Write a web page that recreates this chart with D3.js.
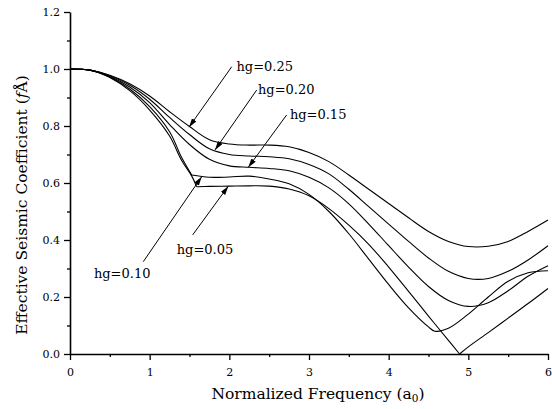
<!DOCTYPE html>
<html>
<head>
<meta charset="utf-8">
<script src="https://cdn.jsdelivr.net/npm/d3@7"></script>
<style>
  body { margin: 0; background: #fff; }
  svg text { font-family: "DejaVu Serif", "Liberation Serif", serif; fill: #000; }
</style>
</head>
<body>
<svg id="chart" width="552" height="409"></svg>
<script>
// Effective seismic coefficient vs. normalized frequency, one curve per hg value.
const hgValues = ["0.25", "0.20", "0.15", "0.10", "0.05"];

const freq25 = [0, 0.25, 0.5, 0.75, 1, 1.25, 1.5, 1.75, 2, 2.25, 2.5, 2.75, 3, 3.25, 3.5, 3.75, 4, 4.25, 4.5, 4.75, 5, 5.25, 5.5, 5.75, 6];
const coef25 = [1.0, 0.996, 0.978, 0.948, 0.905, 0.85, 0.798, 0.752, 0.737, 0.733, 0.733, 0.727, 0.707, 0.675, 0.628, 0.578, 0.528, 0.478, 0.43, 0.395, 0.377, 0.378, 0.395, 0.43, 0.47];

const freq20 = [0, 0.25, 0.5, 0.75, 1, 1.25, 1.5, 1.75, 2, 2.25, 2.5, 2.75, 3, 3.25, 3.5, 3.75, 4, 4.25, 4.5, 4.75, 5, 5.25, 5.5, 5.75, 6];
const coef20 = [1.0, 0.996, 0.976, 0.943, 0.894, 0.83, 0.77, 0.72, 0.70, 0.695, 0.692, 0.685, 0.665, 0.632, 0.578, 0.517, 0.456, 0.395, 0.337, 0.29, 0.265, 0.265, 0.29, 0.33, 0.38];

const freq15 = [0, 0.25, 0.5, 0.75, 1, 1.25, 1.5, 1.75, 2, 2.25, 2.5, 2.75, 3, 3.25, 3.5, 3.75, 4, 4.25, 4.5, 4.75, 5, 5.25, 5.5, 5.75, 6];
const coef15 = [1.0, 0.996, 0.974, 0.937, 0.882, 0.805, 0.735, 0.683, 0.66, 0.655, 0.651, 0.643, 0.62, 0.583, 0.527, 0.456, 0.38, 0.305, 0.237, 0.188, 0.167, 0.18, 0.222, 0.273, 0.31];

const freq10 = [0, 0.25, 0.5, 0.75, 1, 1.25, 1.4, 1.527, 1.75, 2, 2.25, 2.5, 2.75, 3, 3.25, 3.5, 3.75, 4, 4.25, 4.5, 4.58, 4.75, 5, 5.25, 5.5, 5.75, 6];
const coef10 = [1.0, 0.996, 0.972, 0.93, 0.868, 0.78, 0.69, 0.628, 0.62, 0.621, 0.624, 0.614, 0.597, 0.56, 0.5, 0.422, 0.333, 0.244, 0.162, 0.095, 0.08, 0.09, 0.14, 0.2, 0.255, 0.285, 0.292];
const kinks10 = [1.527];

const freq05 = [0, 0.25, 0.5, 0.75, 1, 1.25, 1.4, 1.527, 1.59, 1.75, 2, 2.25, 2.5, 2.75, 3, 3.25, 3.5, 3.75, 4, 4.25, 4.5, 4.75, 4.89, 5, 5.25, 5.5, 5.75, 6];
const coef05 = [1.0, 0.996, 0.97, 0.924, 0.856, 0.765, 0.68, 0.625, 0.587, 0.588, 0.589, 0.59, 0.589, 0.579, 0.555, 0.51, 0.452, 0.385, 0.305, 0.22, 0.133, 0.048, 0.0, 0.025, 0.075, 0.126, 0.177, 0.23];
const kinks05 = [1.59, 4.89];

const xTicks = [0, 1, 2, 3, 4, 5, 6];
const yTicks = [0.0, 0.2, 0.4, 0.6, 0.8, 1.0, 1.2];

const series = [
  { hg: hgValues[0], x: freq25, y: coef25, kinks: [] },
  { hg: hgValues[1], x: freq20, y: coef20, kinks: [] },
  { hg: hgValues[2], x: freq15, y: coef15, kinks: [] },
  { hg: hgValues[3], x: freq10, y: coef10, kinks: kinks10 },
  { hg: hgValues[4], x: freq05, y: coef05, kinks: kinks05 }
];

// Callouts: label anchor, leader start and arrow tip, all in data units.
const callouts = [
  { hg: hgValues[0], label: [2.09, 0.993], from: [2.03, 1.008], to: [1.494, 0.796] },
  { hg: hgValues[1], label: [2.36, 0.912], from: [2.343, 0.926], to: [1.82, 0.716] },
  { hg: hgValues[2], label: [2.76, 0.825], from: [2.72, 0.839], to: [2.238, 0.655] },
  { hg: hgValues[3], label: [0.30, 0.267], from: [0.92, 0.324], to: [1.653, 0.622] },
  { hg: hgValues[4], label: [1.34, 0.350], from: [1.54, 0.418], to: [1.987, 0.589] }
];

const svg = d3.select("#chart");
const x = d3.scaleLinear().domain([0, 6]).range([70, 548]);
const y = d3.scaleLinear().domain([0, 1.2]).range([354, 12]);

// Minor ticks
svg.append("g")
  .attr("transform", "translate(0,354)")
  .call(d3.axisBottom(x).tickValues(d3.range(0.5, 6, 1)).tickSize(3).tickSizeOuter(0).tickFormat(""))
  .call(g => g.select(".domain").remove())
  .call(g => g.selectAll("line").attr("stroke", "#000").attr("stroke-width", 1.3));
svg.append("g")
  .attr("transform", "translate(70,0)")
  .call(d3.axisLeft(y).tickValues(d3.range(0.1, 1.2, 0.2)).tickSize(3).tickSizeOuter(0).tickFormat(""))
  .call(g => g.select(".domain").remove())
  .call(g => g.selectAll("line").attr("stroke", "#000").attr("stroke-width", 1.3));

// Major axes
const xAxis = svg.append("g")
  .attr("transform", "translate(0,354)")
  .call(d3.axisBottom(x).tickValues(xTicks).tickSize(6).tickSizeOuter(0).tickPadding(8).tickFormat(d3.format("d")));
const yAxis = svg.append("g")
  .attr("transform", "translate(70,0)")
  .call(d3.axisLeft(y).tickValues(yTicks).tickSize(6).tickSizeOuter(0).tickPadding(4).tickFormat(d3.format(".1f")));
[xAxis, yAxis].forEach(g => {
  g.select(".domain").attr("stroke", "#000").attr("stroke-width", 1.6);
  g.selectAll(".tick line").attr("stroke", "#000").attr("stroke-width", 1.3);
  g.selectAll(".tick text").attr("font-family", "DejaVu Serif").attr("font-size", 11).attr("fill", "#000");
});

// Curves, split at corner points so the corners stay sharp
const line = d3.line().x(d => x(d[0])).y(d => y(d[1])).curve(d3.curveCatmullRom.alpha(0.5));
const curves = svg.append("g").attr("fill", "none").attr("stroke", "#000").attr("stroke-width", 1.1);
series.forEach(s => {
  const pts = s.x.map((a, i) => [a, s.y[i]]);
  const cuts = [0, ...s.kinks.map(k => s.x.indexOf(k)), pts.length - 1];
  for (let i = 0; i < cuts.length - 1; i++) {
    curves.append("path").attr("d", line(pts.slice(cuts[i], cuts[i + 1] + 1)));
  }
});

// Arrow callouts
svg.append("defs").append("marker")
  .attr("id", "arrow").attr("viewBox", "0 0 10 6").attr("refX", 10).attr("refY", 3)
  .attr("markerWidth", 9).attr("markerHeight", 5.5).attr("markerUnits", "userSpaceOnUse")
  .attr("orient", "auto")
  .append("path").attr("d", "M0,0L10,3L0,6Z").attr("fill", "#000");
const notes = svg.append("g");
callouts.forEach(c => {
  notes.append("line")
    .attr("x1", x(c.from[0])).attr("y1", y(c.from[1]))
    .attr("x2", x(c.to[0])).attr("y2", y(c.to[1]))
    .attr("stroke", "#000").attr("stroke-width", 1).attr("marker-end", "url(#arrow)");
  notes.append("text")
    .attr("x", x(c.label[0])).attr("y", y(c.label[1]))
    .attr("font-size", 13).text("hg=" + c.hg);
});

// Axis titles
svg.append("text")
  .attr("x", 318).attr("y", 399).attr("text-anchor", "middle").attr("font-size", 15.5)
  .call(t => {
    t.append("tspan").text("Normalized Frequency (a");
    t.append("tspan").attr("font-size", 10.5).attr("dy", 3).text("0");
    t.append("tspan").attr("dy", -3).text(")");
  });
svg.append("text")
  .attr("transform", "translate(27,205) rotate(-90)")
  .attr("text-anchor", "middle").attr("font-size", 15.5)
  .call(t => {
    t.append("tspan").text("Effective Seismic Coefficient (");
    t.append("tspan").attr("font-style", "italic").text("f");
    t.append("tspan").text("Å)");
  });
</script>
</body>
</html>
